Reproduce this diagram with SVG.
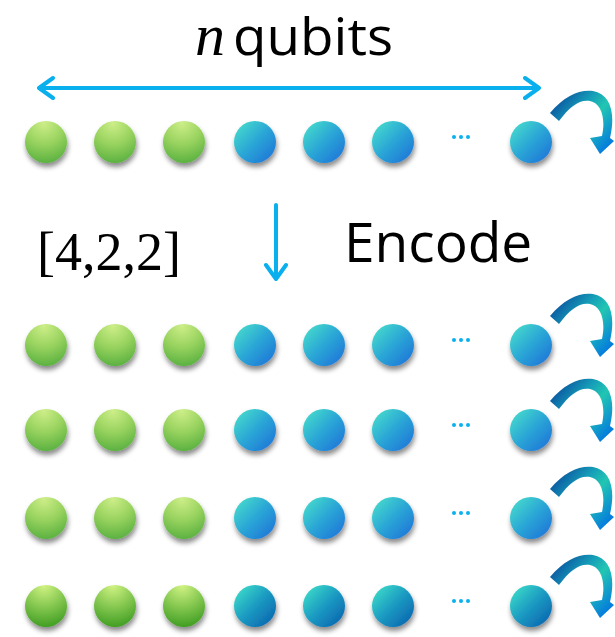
<svg xmlns="http://www.w3.org/2000/svg" xmlns:xlink="http://www.w3.org/1999/xlink" width="615" height="637" viewBox="0 0 615 637">
<style>
.sans{font-family:"Open Sans","Noto Sans","Liberation Sans",sans-serif;fill:#000}
.serif{font-family:"Liberation Serif","Times New Roman",serif;fill:#000}
.line{stroke:#0ab0ee;stroke-width:4;fill:none;stroke-linecap:round;stroke-linejoin:round}
.dots{fill:#0ab0ee}
</style>
<defs>
<filter id="sh" x="-50%" y="-50%" width="200%" height="200%">
<feDropShadow dx="1" dy="4" stdDeviation="2.5" flood-color="#000" flood-opacity="0.45"/>
</filter>
<radialGradient id="gG" cx="0.45" cy="0.1" r="0.95" fx="0.45" fy="0.05">
<stop offset="0" stop-color="#cdee88"/>
<stop offset="0.5" stop-color="#99d35f"/>
<stop offset="1" stop-color="#55ae3e"/>
</radialGradient>
<radialGradient id="gG2" cx="0.45" cy="0.05" r="1" fx="0.45" fy="0.0">
<stop offset="0" stop-color="#d3f484"/>
<stop offset="0.5" stop-color="#86c851"/>
<stop offset="1" stop-color="#3a9a1e"/>
</radialGradient>
<linearGradient id="gB" x1="0.1" y1="0.1" x2="0.9" y2="0.9">
<stop offset="0" stop-color="#44d8cc"/>
<stop offset="0.5" stop-color="#2aa6d6"/>
<stop offset="1" stop-color="#2078d8"/>
</linearGradient>
<linearGradient id="gB2" x1="0.1" y1="0.1" x2="0.9" y2="0.9">
<stop offset="0" stop-color="#3ad8c8"/>
<stop offset="0.5" stop-color="#1b9ac2"/>
<stop offset="1" stop-color="#0b68b0"/>
</linearGradient>
<linearGradient id="gA" x1="0" y1="0.2" x2="0.9" y2="1">
<stop offset="0" stop-color="#0a4c9e"/>
<stop offset="0.35" stop-color="#15a0b8"/>
<stop offset="0.55" stop-color="#22c6b2"/>
<stop offset="1" stop-color="#0070e4"/>
</linearGradient>
<g id="green"><circle r="21" fill="url(#gG)" filter="url(#sh)"/></g>
<g id="green2"><circle r="21" fill="url(#gG2)" filter="url(#sh)"/></g>
<g id="blue"><circle r="21" fill="url(#gB)" filter="url(#sh)"/></g>
<g id="blue2"><circle r="21" fill="url(#gB2)" filter="url(#sh)"/></g>
<g id="dot3"><circle cx="-7" r="2" class="dots"/><circle r="2" class="dots"/><circle cx="7" r="2" class="dots"/></g>
<path id="curl" fill="url(#gA)" d="M20,-29 C34,-46 50,-53 63,-51 C80,-48 86,-30 80,-4 L84,-1 L70,12 L60,-4 L72,-6 C76,-24 71,-39 60,-41 C50,-43 40,-36 29,-21 Z"/>
</defs>
<rect width="615" height="637" fill="#fff"/>

<g id="labels">
<text x="195" y="55" class="serif" font-size="60" font-style="italic">n</text>
<text x="233" y="55" class="sans" font-size="51" textLength="160" lengthAdjust="spacingAndGlyphs">qubits</text>
<text x="37" y="270" class="serif" font-size="54">[4,2,2]</text>
<text x="344" y="262" class="sans" font-size="55">Encode</text>
</g>

<g id="row1">
<use id="r1q1" href="#green" x="46" y="142"/>
<use id="r1q2" href="#green" x="115" y="142"/>
<use id="r1q3" href="#green" x="184" y="142"/>
<use id="r1q4" href="#blue" x="255" y="142"/>
<use id="r1q5" href="#blue" x="324" y="142"/>
<use id="r1q6" href="#blue" x="393" y="142"/>
<use href="#dot3" x="461" y="137"/>
<use id="r1qn" href="#blue" x="531" y="142"/>
</g>
<g id="row2">
<use id="r2q1" href="#green" x="46" y="345"/>
<use id="r2q2" href="#green" x="115" y="345"/>
<use id="r2q3" href="#green" x="184" y="345"/>
<use id="r2q4" href="#blue" x="255" y="345"/>
<use id="r2q5" href="#blue" x="324" y="345"/>
<use id="r2q6" href="#blue" x="393" y="345"/>
<use href="#dot3" x="461" y="340"/>
<use id="r2qn" href="#blue" x="531" y="345"/>
</g>
<g id="row3">
<use id="r3q1" href="#green" x="46" y="430"/>
<use id="r3q2" href="#green" x="115" y="430"/>
<use id="r3q3" href="#green" x="184" y="430"/>
<use id="r3q4" href="#blue" x="255" y="430"/>
<use id="r3q5" href="#blue" x="324" y="430"/>
<use id="r3q6" href="#blue" x="393" y="430"/>
<use href="#dot3" x="461" y="425"/>
<use id="r3qn" href="#blue" x="531" y="430"/>
</g>
<g id="row4">
<use id="r4q1" href="#green" x="46" y="518"/>
<use id="r4q2" href="#green" x="115" y="518"/>
<use id="r4q3" href="#green" x="184" y="518"/>
<use id="r4q4" href="#blue" x="255" y="518"/>
<use id="r4q5" href="#blue" x="324" y="518"/>
<use id="r4q6" href="#blue" x="393" y="518"/>
<use href="#dot3" x="461" y="513"/>
<use id="r4qn" href="#blue" x="531" y="518"/>
</g>
<g id="row5">
<use id="r5q1" href="#green2" x="46" y="606"/>
<use id="r5q2" href="#green2" x="115" y="606"/>
<use id="r5q3" href="#green2" x="184" y="606"/>
<use id="r5q4" href="#blue2" x="255" y="606"/>
<use id="r5q5" href="#blue2" x="324" y="606"/>
<use id="r5q6" href="#blue2" x="393" y="606"/>
<use href="#dot3" x="461" y="601"/>
<use id="r5qn" href="#blue2" x="531" y="606"/>
</g>

<g id="connectors">
<path class="line" d="M39,88 H539 M53,78 L39,88 L53,98 M525,78 L539,88 L525,98"/>
<path class="line" d="M276,205 V279 M266,265 L276,279 L286,265"/>
<use href="#curl" x="530" y="142"/>
<use href="#curl" x="530" y="345"/>
<use href="#curl" x="530" y="430"/>
<use href="#curl" x="530" y="518"/>
<use href="#curl" x="530" y="606"/>
</g>
</svg>
